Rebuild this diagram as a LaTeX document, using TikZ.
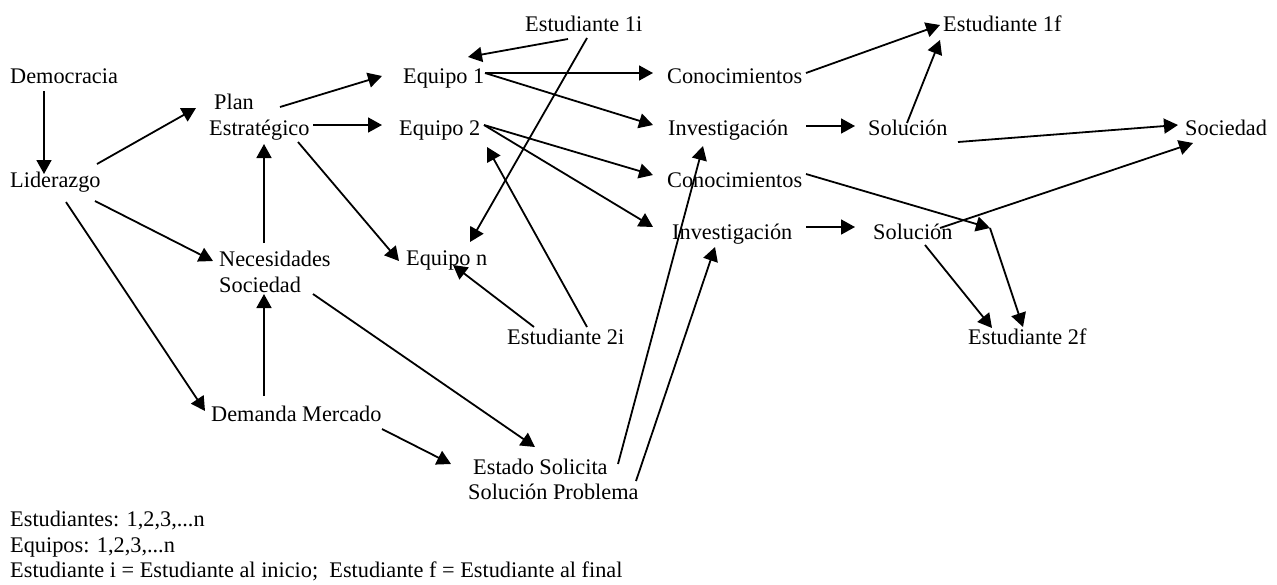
\documentclass[tikz,border=0pt]{standalone}
\usepackage{fontspec}
\setmainfont{Liberation Serif}
\usetikzlibrary{arrows.meta}
\begin{document}
\begin{tikzpicture}[x=1pt,y=-1pt,
  txt/.style={anchor=base west,inner sep=0pt,font=\fontsize{22.3}{26}\selectfont},
  conn/.style={-{Triangle[length=14pt,width=15pt]},line width=1.8pt}]
\useasboundingbox (0,0) rectangle (1277,584);
% text nodes
\node[txt] (dem) at (10,83) {Democracia};
\node[txt] (lid) at (10,187) {Liderazgo};
\node[txt] (planA) at (214,109) {Plan};
\node[txt] (planB) at (209,135) {Estratégico};
\node[txt] (necA) at (219,266) {Necesidades};
\node[txt] (necB) at (219,292) {Sociedad};
\node[txt] (dm) at (211,421) {Demanda Mercado};
\node[txt] (eq1) at (403,83) {Equipo 1};
\node[txt] (eq2) at (399,135) {Equipo 2};
\node[txt] (eqn) at (406,265) {Equipo n};
\node[txt] (e1i) at (525,31) {Estudiante 1i};
\node[txt] (e2i) at (507,344) {Estudiante 2i};
\node[txt] (estA) at (473,474) {Estado Solicita};
\node[txt] (estB) at (468,499) {Solución Problema};
\node[txt] (con1) at (667,83) {Conocimientos};
\node[txt] (inv1) at (668,135) {Investigación};
\node[txt] (con2) at (667,187) {Conocimientos};
\node[txt] (inv2) at (672,239) {Investigación};
\node[txt] (sol1) at (868,135) {Solución};
\node[txt] (sol2) at (873,239) {Solución};
\node[txt] (e1f) at (943,31) {Estudiante 1f};
\node[txt] (e2f) at (968,344) {Estudiante 2f};
\node[txt] (soc) at (1185,135) {Sociedad};
\node[txt] (leg1) at (10,526) {Estudiantes: 1,2,3,...n};
\node[txt] (leg2) at (10,552) {Equipos: 1,2,3,...n};
\node[txt] (leg3) at (10,577) {Estudiante i = Estudiante al inicio;\ \ Estudiante f = Estudiante al final};
% connector end points
\coordinate (dem-o) at (44,91);   \coordinate (lid-i) at (44,174);
\coordinate (lid-o1) at (97,164); \coordinate (plan-i) at (196,108);
\coordinate (lid-o2) at (95,201); \coordinate (nec-i) at (213,261);
\coordinate (lid-o3) at (66,202); \coordinate (dm-i) at (205,411);
\coordinate (nec-o1) at (264,243); \coordinate (plan-i2) at (264,144);
\coordinate (dm-o1) at (264,396); \coordinate (nec-i2) at (264,294);
\coordinate (plan-o1) at (280,107); \coordinate (eq1-i) at (382,76);
\coordinate (plan-o2) at (313,125); \coordinate (eq2-i) at (382,125);
\coordinate (plan-o3) at (298,142); \coordinate (eqn-i) at (399,261);
\coordinate (nec-o2) at (313,294); \coordinate (est-i1) at (535,447);
\coordinate (dm-o2) at (382,429); \coordinate (est-i2) at (451,464);
\coordinate (e1i-o1) at (568,39); \coordinate (eq1-i2) at (468,57);
\coordinate (e1i-o2) at (587,38); \coordinate (eqn-i2) at (470,242);
\coordinate (e2i-o1) at (534,327); \coordinate (eqn-i3) at (453,265);
\coordinate (e2i-o2) at (587,327); \coordinate (eq2-i2) at (487,147);
\coordinate (eq1-o) at (485,73); \coordinate (con1-i) at (653,73); \coordinate (inv1-i) at (653,125);
\coordinate (eq2-o) at (484,125); \coordinate (con2-i) at (653,175); \coordinate (inv2-i) at (653,227);
\coordinate (est-o1) at (618,464); \coordinate (inv1-i2) at (703,146);
\coordinate (est-o2) at (636,481); \coordinate (inv2-i2) at (715,247);
\coordinate (inv1-o) at (806,126); \coordinate (sol1-i) at (855,126);
\coordinate (inv2-o) at (806,227); \coordinate (sol2-i) at (855,227);
\coordinate (con1-o) at (806,73); \coordinate (e1f-i1) at (940,25);
\coordinate (con2-o) at (806,174); \coordinate (bend) at (990,228); \coordinate (e2f-i1) at (1023,327);
\coordinate (sol1-o1) at (907,123); \coordinate (e1f-i2) at (940,40);
\coordinate (sol1-o2) at (958,142); \coordinate (soc-i1) at (1178,125);
\coordinate (sol2-o1) at (940,228); \coordinate (soc-i2) at (1193,143);
\coordinate (sol2-o2) at (925,245); \coordinate (e2f-i2) at (992,328);
% connectors
\draw[conn] (dem-o) -- (lid-i);
\draw[conn] (lid-o1) -- (plan-i);
\draw[conn] (lid-o2) -- (nec-i);
\draw[conn] (lid-o3) -- (dm-i);
\draw[conn] (nec-o1) -- (plan-i2);
\draw[conn] (dm-o1) -- (nec-i2);
\draw[conn] (plan-o1) -- (eq1-i);
\draw[conn] (plan-o2) -- (eq2-i);
\draw[conn] (plan-o3) -- (eqn-i);
\draw[conn] (nec-o2) -- (est-i1);
\draw[conn] (dm-o2) -- (est-i2);
\draw[conn] (e1i-o1) -- (eq1-i2);
\draw[conn] (e1i-o2) -- (eqn-i2);
\draw[conn] (e2i-o1) -- (eqn-i3);
\draw[conn] (e2i-o2) -- (eq2-i2);
\draw[conn] (eq1-o) -- (con1-i);
\draw[conn] (eq1-o) -- (inv1-i);
\draw[conn] (eq2-o) -- (con2-i);
\draw[conn] (eq2-o) -- (inv2-i);
\draw[conn] (est-o1) -- (inv1-i2);
\draw[conn] (est-o2) -- (inv2-i2);
\draw[conn] (inv1-o) -- (sol1-i);
\draw[conn] (inv2-o) -- (sol2-i);
\draw[conn] (con1-o) -- (e1f-i1);
\draw[conn] (con2-o) -- (bend);
\draw[conn] (bend) -- (e2f-i1);
\draw[conn] (sol1-o1) -- (e1f-i2);
\draw[conn] (sol1-o2) -- (soc-i1);
\draw[conn] (sol2-o1) -- (soc-i2);
\draw[conn] (sol2-o2) -- (e2f-i2);
\end{tikzpicture}
\end{document}
